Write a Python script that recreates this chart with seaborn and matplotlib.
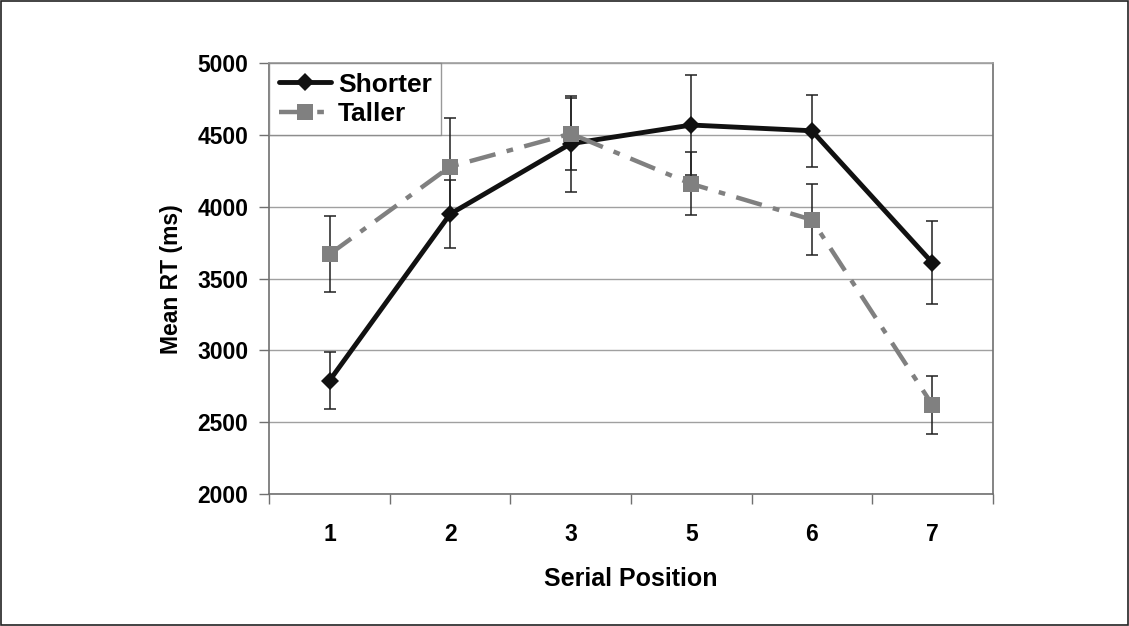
import matplotlib
matplotlib.use("Agg")
import matplotlib.pyplot as plt
import seaborn as sns
import numpy as np
import pandas as pd

positions = ["1", "2", "3", "5", "6", "7"]
shorter = [2790, 3950, 4440, 4570, 4530, 3610]
shorter_err = [200, 240, 335, 350, 250, 290]
taller = [3670, 4280, 4510, 4160, 3910, 2620]
taller_err = [265, 340, 250, 220, 248, 200]

sns.set_theme(style="white")
plt.rcParams['font.family'] = ['Liberation Sans', 'DejaVu Sans']

df = pd.DataFrame({
    "pos": list(range(len(positions))) * 2,
    "rt": shorter + taller,
    "group": ["Shorter"] * len(positions) + ["Taller"] * len(positions),
})

fig = plt.figure(figsize=(11.29, 6.26), dpi=100)
ax = fig.add_axes([0.2385, 0.2109, 0.8793 - 0.2385, 0.8989 - 0.2109])

ax.yaxis.grid(True, color="#a0a0a0", linewidth=1.0)
ax.set_axisbelow(True)

xs = np.arange(len(positions))
ax.errorbar(xs, taller, yerr=taller_err, fmt="none", ecolor="#202020",
            elinewidth=1.1, capsize=4, capthick=1.1, zorder=2)
ax.errorbar(xs, shorter, yerr=shorter_err, fmt="none", ecolor="#202020",
            elinewidth=1.1, capsize=4, capthick=1.1, zorder=2)

sns.lineplot(data=df, x="pos", y="rt", hue="group", style="group",
             palette={"Shorter": "#111111", "Taller": "#808080"},
             markers={"Shorter": "D", "Taller": "s"},
             dashes={"Shorter": "", "Taller": (6, 2.6, 1.5, 2.6)},
             markersize=11, linewidth=3.2, markeredgewidth=0,
             ax=ax, zorder=3, legend=True)
for ln in ax.get_lines():
    if ln.get_marker() == "D":
        ln.set_markersize(9.5)
        ln.set_linewidth(3.5)

ax.set_xlim(-0.5, len(positions) - 0.5)
ax.set_ylim(2000, 5000)
ax.set_yticks(np.arange(2000, 5001, 500))
ax.set_xticks(xs)
ax.set_xticklabels(positions)
ax.set_xticks(np.arange(-0.5, len(positions), 1.0), minor=True)
ax.tick_params(axis="x", which="major", length=0, pad=21, labelsize=16.5)
ax.tick_params(axis="x", which="minor", length=7, width=1, color="#707070",
               direction="out", bottom=True)
ax.tick_params(axis="y", which="major", length=7, width=1, color="#707070",
               direction="out", left=True, labelsize=16.5, pad=8)
for lbl in ax.get_xticklabels() + ax.get_yticklabels():
    lbl.set_fontweight("bold")
    lbl.set_color("black")

for side in ["left", "bottom", "right", "top"]:
    ax.spines[side].set_visible(True)
    ax.spines[side].set_color("#707070")
    ax.spines[side].set_linewidth(1.2)
ax.spines["top"].set_color("#a0a0a0")

ax.set_xlabel("Serial Position", fontsize=18, fontweight="bold", labelpad=15, color="black")
ax.set_ylabel("Mean RT (ms)", fontsize=16.5, fontweight="bold", labelpad=10, color="black")

handles, labels = ax.get_legend_handles_labels()
leg = ax.legend(handles, labels, loc="upper left", bbox_to_anchor=(0, 1),
                borderaxespad=0, frameon=True, fancybox=False,
                prop={"weight": "bold", "size": 19}, handlelength=2.0,
                handletextpad=0.25, borderpad=0.35, labelspacing=0.2)
leg.get_frame().set_edgecolor("#808080")
leg.get_frame().set_linewidth(1.0)
for t in leg.get_texts():
    t.set_color("black")

fig.patches.append(plt.Rectangle((0.001, 0.001), 0.998, 0.997, transform=fig.transFigure,
                                 fill=False, edgecolor="#222222", linewidth=1.2))

fig.savefig("out.png", dpi=100, facecolor="white")
